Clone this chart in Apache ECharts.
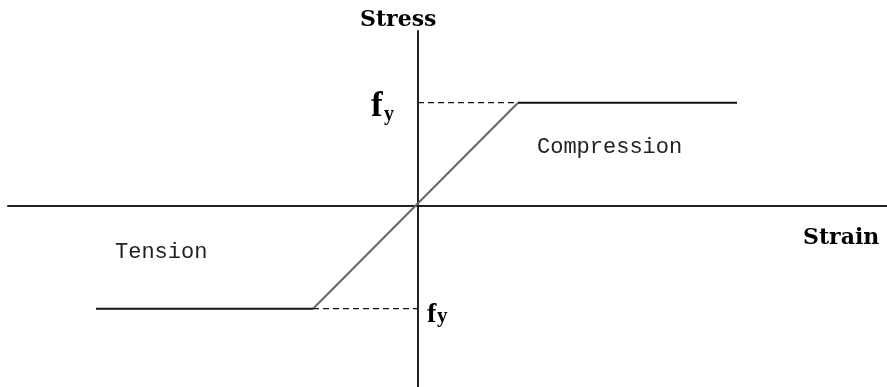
<!DOCTYPE html>
<html>
<head>
<meta charset="utf-8">
<script src="https://cdn.jsdelivr.net/npm/echarts@6/dist/echarts.min.js"></script>
<style>html,body{margin:0;padding:0;background:#fff}#c{width:887px;height:387px}</style>
</head>
<body>
<div id="c"></div>
<script>
// Bilinear elastic-plastic stress-strain diagram (normalised: fy = 1, yield strain = 1)
const plateauTensionStrain = [-3.22, -1.05];
const plateauTensionStress = [-1, -1];
const elasticStrain = [-1.05, 1.0];
const elasticStress = [-1, 1];
const plateauCompStrain = [1.0, 3.19];
const plateauCompStress = [1, 1];
const dashCompStrain = [0, 1.0];
const dashCompStress = [1, 1];
const dashTensStrain = [-1.05, 0];
const dashTensStress = [-1, -1];

const xMin = -4.10, xMax = 4.69, yMin = -1.76, yMax = 1.696;

function pts(xs, ys) { return xs.map((x, i) => [x, ys[i]]); }

const chart = echarts.init(document.getElementById('c'), null, {renderer: 'canvas'});
chart.setOption({
  animation: false,
  backgroundColor: '#ffffff',
  grid: {left: 8, right: 0, top: 31, bottom: 0},
  xAxis: {
    type: 'value', min: xMin, max: xMax,
    axisLine: {show: true, onZero: true, lineStyle: {color: '#222', width: 2}},
    axisTick: {show: false}, axisLabel: {show: false}, splitLine: {show: false}
  },
  yAxis: {
    type: 'value', min: yMin, max: yMax,
    axisLine: {show: true, onZero: true, lineStyle: {color: '#222', width: 2}},
    axisTick: {show: false}, axisLabel: {show: false}, splitLine: {show: false}
  },
  series: [
    {type: 'line', data: pts(plateauTensionStrain, plateauTensionStress), symbol: 'none', lineStyle: {color: '#111', width: 2}},
    {type: 'line', data: pts(elasticStrain, elasticStress), symbol: 'none', lineStyle: {color: '#666', width: 2}},
    {type: 'line', data: pts(plateauCompStrain, plateauCompStress), symbol: 'none', lineStyle: {color: '#111', width: 2}},
    {type: 'line', data: pts(dashCompStrain, dashCompStress), symbol: 'none', lineStyle: {color: '#111', width: 1.3, type: [6, 4]}},
    {type: 'line', data: pts(dashTensStrain, dashTensStress), symbol: 'none', lineStyle: {color: '#111', width: 1.3, type: [6, 4]}}
  ],
  graphic: [
    {type: 'text', left: 360, top: 9, style: {text: 'Stress', font: 'bold 22px "DejaVu Serif"', fill: '#000'}},
    {type: 'text', left: 803, top: 227, style: {text: 'Strain', font: 'bold 22px "DejaVu Serif"', fill: '#000'}},
    {type: 'text', left: 115, top: 241, style: {text: 'Tension', font: '22px "Liberation Mono"', fill: '#222'}},
    {type: 'text', left: 537, top: 136, style: {text: 'Compression', font: '22px "Liberation Mono"', fill: '#222'}},
    {type: 'text', left: 371, top: 89, style: {text: 'f', font: 'bold 35px "Liberation Serif"', fill: '#000'}},
    {type: 'text', left: 384, top: 105, style: {text: 'y', font: 'bold 20px "Liberation Serif"', fill: '#000'}},
    {type: 'text', left: 427, top: 301, style: {text: 'f', font: 'bold 28px "Liberation Serif"', fill: '#000'}},
    {type: 'text', left: 437, top: 306, style: {text: 'y', font: 'bold 21px "Liberation Serif"', fill: '#000'}}
  ]
});
</script>
</body>
</html>
